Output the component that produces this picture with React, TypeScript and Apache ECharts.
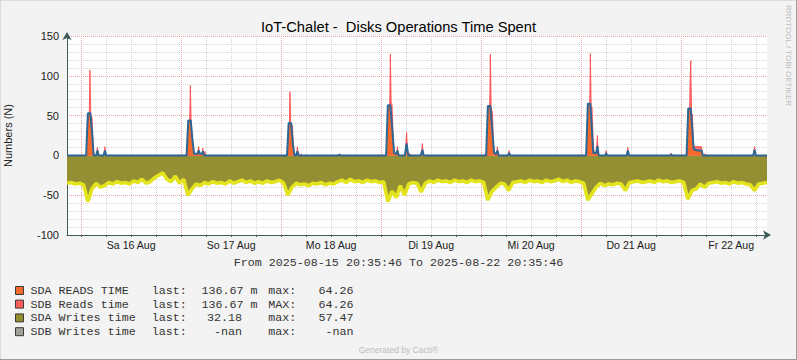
import React, { useEffect, useRef } from "react";
import * as echarts from "echarts";

const titleText = "IoT-Chalet -  Disks Operations Time Spent";
const yAxisName = "Numbers (N)";
const rangeText = "From 2025-08-15 20:35:46 To 2025-08-22 20:35:46";
const sideText = "RRDTOOL / TOBI OETIKER";
const footerText = "Generated by Cacti®";

// x axis: hours since 2025-08-15 20:35:46
const totalHours = 168;
const firstMidnightHours = 3.4039; // 2025-08-16 00:00
const dayLabels = ["Sa 16 Aug", "So 17 Aug", "Mo 18 Aug", "Di 19 Aug", "Mi 20 Aug", "Do 21 Aug", "Fr 22 Aug"];
const yLabelValues = [-100, -50, 0, 50, 100, 150];

const legendNames = ["SDA READS TIME", "SDB Reads time", "SDA Writes time", "SDB Writes time"];
const legendLast = ["136.67 m", "136.67 m", "32.18", "-nan"];
const legendMaxLabel = ["max:", "MAX:", "max:", "max:"];
const legendMax = ["64.26", "64.26", "57.47", "-nan"];
const legendColors = ["#F56B2B", "#FF5C5C", "#918C2E", "#A0A397"];

// SDA reads (orange area, blue outline): [hour, value]
const sdaReads: [number, number][] = [
  [0, 0],
  [4.6, 0], [5.0, 53], [5.6, 53], [6.0, 30], [6.4, 0], [7.0, 0], [7.3, 6], [7.6, 0], [8.8, 0], [9.1, 6], [9.4, 0],
  [28.7, 0], [29.1, 44], [29.7, 44], [30.1, 20], [30.5, 2], [31.3, 2], [31.6, 6.5], [31.9, 2], [32.4, 2], [32.6, 5], [32.9, 0],
  [52.8, 0], [53.2, 40.6], [53.8, 40.6], [54.2, 15], [54.6, 0], [55.0, 0], [55.3, 5], [55.6, 0],
  [65.2, 0], [65.4, 1.5], [65.6, 0],
  [76.6, 0], [77.0, 63], [77.6, 63], [78.1, 31], [78.5, 3], [79.0, 2], [79.3, 6], [79.6, 0], [81.1, 0], [81.5, 15], [81.9, 0],
  [84.9, 0], [85.3, 7], [85.6, 0],
  [100.6, 0], [101.0, 62], [101.6, 62], [102.1, 30], [102.5, 3], [103.0, 2], [103.3, 6], [103.6, 0], [105.8, 0], [106.1, 3], [106.4, 0],
  [124.6, 0], [125.0, 65], [125.6, 65], [126.0, 30], [126.3, 3], [127.0, 3], [127.3, 12], [127.6, 0], [129.2, 0], [129.4, 3], [129.6, 0],
  [134.3, 0], [134.6, 6], [134.9, 0], [144.8, 0], [145.0, 1.5], [145.2, 0],
  [148.7, 0], [149.1, 59], [149.7, 59], [150.1, 31], [150.4, 8], [151.3, 6], [152.3, 6], [152.6, 0], [164.7, 0], [165.0, 7], [165.3, 0],
  [168, 0],
];

// SDB reads (red spikes): [hour, value]
const sdbReads: [number, number][] = [
  [0, 0],
  [4.9, 0], [5.3, 40], [5.5, 107], [5.7, 50], [6.0, 48], [6.3, 10], [6.5, 0], [7.1, 0], [7.3, 10], [7.5, 0], [8.9, 0], [9.1, 11], [9.3, 0],
  [29.3, 0], [29.5, 60], [29.6, 88], [29.8, 40], [30.0, 23], [30.3, 5], [30.5, 0], [31.4, 0], [31.6, 11], [31.8, 0], [32.4, 0], [32.6, 9], [32.8, 0], [33.0, 0], [33.1, 5], [33.3, 0],
  [53.3, 0], [53.5, 80], [53.7, 40], [54.1, 38], [54.4, 5], [54.7, 0], [55.1, 0], [55.3, 11], [55.5, 0], [56.0, 0], [56.2, 2], [56.4, 0],
  [77.2, 0], [77.5, 80], [77.6, 127], [77.8, 65], [78.0, 65], [78.3, 20], [78.6, 0], [79.1, 0], [79.3, 11], [79.5, 0], [81.2, 0], [81.5, 29], [81.8, 0], [82.0, 2], [82.3, 2], [82.5, 0],
  [85.0, 0], [85.3, 15], [85.5, 0],
  [100.2, 0], [100.4, 2], [100.6, 0], [101.2, 0], [101.5, 80], [101.6, 127], [101.8, 60], [102.1, 54], [102.4, 10], [102.7, 0], [103.1, 0], [103.3, 11], [103.5, 0], [105.9, 0], [106.1, 6], [106.3, 0],
  [125.2, 0], [125.5, 80], [125.6, 128], [125.8, 61], [126.0, 61], [126.3, 15], [126.6, 0], [127.0, 0], [127.3, 25], [127.5, 0], [129.2, 0], [129.4, 6], [129.6, 0],
  [134.4, 0], [134.6, 10], [134.8, 0], [144.8, 0], [145.0, 3], [145.2, 0],
  [149.3, 0], [149.5, 80], [149.7, 119], [149.9, 52], [150.1, 52], [150.4, 11], [151.3, 11], [152.3, 11], [152.5, 0], [152.9, 0], [153.1, 2], [153.3, 0],
  [164.8, 0], [165.0, 11], [165.2, 0],
  [168, 0],
];

// SDA writes (negative, hourly from start)
const sdaWrites: number[] = [
  -35, -34, -36, -35, -37, -58, -42, -35, -40, -38,
  -34, -36, -33, -35, -34, -36, -32, -34, -30, -35,
  -33, -28, -25, -22, -30, -33, -26, -35, -30, -50,
  -42, -36, -38, -34, -36, -33, -35, -34, -36, -32,
  -35, -33, -31, -34, -32, -35, -33, -35, -32, -34,
  -33, -31, -35, -50, -40, -35, -37, -36, -38, -35,
  -36, -34, -37, -35, -36, -33, -31, -34, -30, -33,
  -32, -34, -31, -33, -32, -34, -33, -58, -45, -53,
  -38, -50, -36, -34, -35, -46, -35, -32, -34, -31,
  -33, -32, -34, -31, -33, -32, -34, -31, -33, -32,
  -34, -56, -45, -40, -35, -36, -44, -34, -33, -32,
  -34, -31, -33, -32, -34, -31, -33, -32, -30, -33,
  -31, -34, -32, -33, -35, -56, -48, -40, -35, -38,
  -36, -37, -35, -36, -44, -34, -33, -32, -34, -33,
  -32, -34, -31, -33, -32, -34, -33, -32, -34, -55,
  -44, -42, -36, -40, -35, -34, -33, -35, -34, -36,
  -33, -35, -34, -36, -37, -44, -36, -35, -34,
];

const SANS = "Liberation Sans";
const MONO = "Liberation Mono";
const AXIS_COLOR = "#3E5B57";

export default function App() {
  const ref = useRef<HTMLDivElement>(null);

  useEffect(() => {
    if (!ref.current) return;
    const chart = echarts.init(ref.current, undefined, { renderer: "svg" });

    const gridHours = Array.from({ length: 28 }, (_, k) => firstMidnightHours + 6 * k);
    const noonHours = dayLabels.map((_, i) => firstMidnightHours + 12 + 24 * i);

    const legendRowsY = [291, 304.6, 318.4, 332.2];
    const legendGraphics: any[] = [];
    legendNames.forEach((name, i) => {
      const y = legendRowsY[i];
      legendGraphics.push({
        type: "rect",
        shape: { x: 15.5, y: y - 4.5, width: 8, height: 8 },
        style: { fill: legendColors[i], stroke: "#3A3A3A", lineWidth: 1 },
      });
      const mk = (text: string, x: number, align: string) => ({
        type: "text",
        x,
        y,
        style: {
          text,
          fill: "#333",
          fontSize: 11.7,
          fontFamily: MONO,
          align,
          textAlign: align,
          verticalAlign: "middle",
          textVerticalAlign: "middle",
        },
      });
      legendGraphics.push(mk(name, 30.5, "left"));
      legendGraphics.push(mk("last:", 151.7, "left"));
      if (legendLast[i].endsWith(" m")) legendGraphics.push(mk(legendLast[i], 201.5, "left"));
      else legendGraphics.push(mk(legendLast[i], 242, "right"));
      legendGraphics.push(mk(legendMaxLabel[i], 268.3, "left"));
      legendGraphics.push(mk(legendMax[i], 353.5, "right"));
    });

    const option: any = {
      animation: false,
      backgroundColor: "#F3F3F3",
      title: {
        text: titleText,
        left: "center",
        top: 14,
        textStyle: { fontSize: 14.7, fontWeight: "normal", color: "#000", fontFamily: SANS },
      },
      grid: {
        left: 67,
        right: 30,
        top: 36,
        bottom: 125,
        show: true,
        backgroundColor: "#FFFFFF",
        borderWidth: 0,
        containLabel: false,
        outerBoundsMode: "none",
      },
      xAxis: {
        type: "value",
        min: 0,
        max: totalHours,
        splitLine: { show: false },
        axisLine: {
          show: true,
          onZero: false,
          lineStyle: { color: AXIS_COLOR, width: 1 },
          symbol: ["none", "arrow"],
          symbolSize: [7, 8],
          symbolOffset: [0, 4],
        },
        axisTick: { show: true, customValues: gridHours, length: 2, lineStyle: { color: AXIS_COLOR } },
        axisLabel: {
          customValues: noonHours,
          formatter: (v: number) => dayLabels[Math.round((v - firstMidnightHours - 12) / 24)] ?? "",
          color: "#222",
          fontSize: 10.6,
          fontFamily: SANS,
          margin: 4,
        },
      },
      yAxis: {
        type: "value",
        min: -100,
        max: 150,
        interval: 10,
        name: yAxisName,
        nameLocation: "middle",
        nameRotate: 90,
        nameGap: 54,
        nameTextStyle: { fontSize: 11, color: "#222", fontFamily: SANS },
        axisLine: {
          show: true,
          onZero: false,
          lineStyle: { color: AXIS_COLOR, width: 1 },
          symbol: ["none", "arrow"],
          symbolSize: [7, 8],
          symbolOffset: [0, 4],
        },
        axisTick: { show: false },
        axisLabel: {
          formatter: (v: number) => (yLabelValues.includes(v) ? String(v) : ""),
          color: "#222",
          fontSize: 11,
          fontFamily: SANS,
          margin: 8,
        },
        splitLine: {
          show: true,
          lineStyle: {
            color: ["#F2A3A3", "#D6D6D6", "#D6D6D6", "#D6D6D6", "#D6D6D6"],
            type: [1, 1],
            width: 1,
          },
        },
      },
      series: [
        {
          type: "line",
          name: "grid",
          data: [],
          z: 0,
          silent: true,
          markLine: {
            z: 0,
            silent: true,
            symbol: ["none", "none"],
            label: { show: false },
            animation: false,
            emphasis: { disabled: true },
            data: gridHours.map((h, k) => ({
              xAxis: h,
              lineStyle: { color: k % 4 === 0 ? "#F2A3A3" : "#D6D6D6", type: [1, 1], width: 1 },
            })),
          },
        },
        {
          type: "line",
          name: "SDA Writes time",
          data: sdaWrites.map((v, i) => [i, v]),
          symbol: "none",
          showSymbol: false,
          z: 2,
          silent: true,
          emphasis: { disabled: true },
          lineStyle: { color: "#E3E31E", width: 3.6 },
          areaStyle: { color: "#958F33", opacity: 1 },
        },
        {
          type: "line",
          name: "SDB Reads time",
          data: sdbReads,
          symbol: "none",
          showSymbol: false,
          z: 3,
          silent: true,
          emphasis: { disabled: true },
          lineStyle: { color: "#FF4A4A", width: 1, opacity: 0.85 },
          areaStyle: { color: "#FF5A5A", opacity: 0.85 },
        },
        {
          type: "line",
          name: "SDA READS TIME",
          data: sdaReads,
          symbol: "none",
          showSymbol: false,
          z: 4,
          silent: true,
          emphasis: { disabled: true },
          lineStyle: { color: "#2C6796", width: 2 },
          areaStyle: { color: "#F86A2C", opacity: 1 },
        },
      ],
      graphic: [
        { type: "line", shape: { x1: 0, y1: 0.5, x2: 797, y2: 0.5 }, style: { stroke: "#DCDCDC", lineWidth: 1 } },
        { type: "line", shape: { x1: 0.5, y1: 0, x2: 0.5, y2: 360 }, style: { stroke: "#DCDCDC", lineWidth: 1 } },
        { type: "line", shape: { x1: 796.5, y1: 0, x2: 796.5, y2: 360 }, style: { stroke: "#9C9C9C", lineWidth: 1 } },
        { type: "line", shape: { x1: 0, y1: 359.5, x2: 797, y2: 359.5 }, style: { stroke: "#9C9C9C", lineWidth: 1 } },
        {
          type: "text",
          x: 788,
          y: 5,
          rotation: -Math.PI / 2,
          style: {
            text: sideText,
            fill: "#BBBBBB",
            fontSize: 8,
            fontFamily: SANS,
            align: "left",
            textAlign: "left",
            verticalAlign: "middle",
            textVerticalAlign: "middle",
          },
        },
        {
          type: "text",
          x: 398.5,
          y: 263,
          style: {
            text: rangeText,
            fill: "#333",
            fontSize: 11.7,
            fontFamily: MONO,
            align: "center",
            textAlign: "center",
            verticalAlign: "middle",
            textVerticalAlign: "middle",
          },
        },
        ...legendGraphics,
        {
          type: "text",
          x: 398.5,
          y: 350,
          style: {
            text: footerText,
            fill: "#BDBDBD",
            fontSize: 8.5,
            fontFamily: SANS,
            align: "center",
            textAlign: "center",
            verticalAlign: "middle",
            textVerticalAlign: "middle",
          },
        },
      ],
    };

    chart.setOption(option);
    return () => chart.dispose();
  }, []);

  return (
    <div
      ref={ref}
      style={{ position: "fixed", left: 0, top: 0, width: 797, height: 360 }}
    />
  );
}
